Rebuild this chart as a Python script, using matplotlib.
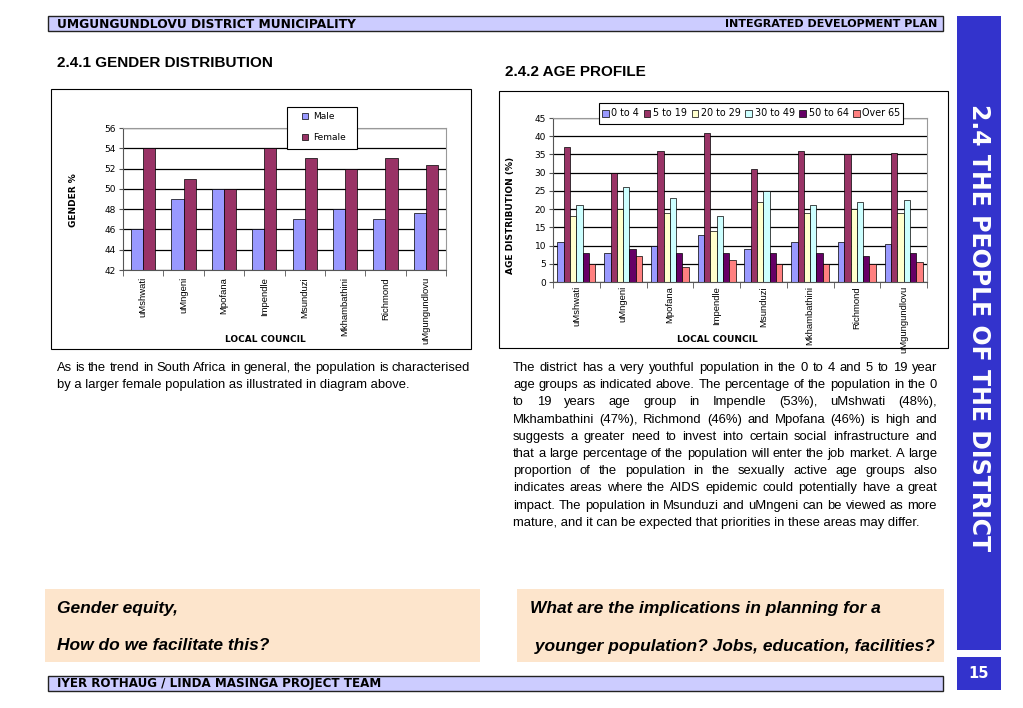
import matplotlib
matplotlib.use('Agg')
import matplotlib.pyplot as plt
import numpy as np
from matplotlib.patches import Rectangle

W, H = 1023, 708

# data
councils = ['uMshwati', 'uMngeni', 'Mpofana', 'Impendle', 'Msunduzi',
            'Mkhambathini', 'Richmond', 'uMgungundlovu']
male = [46, 49, 50, 46, 47, 48, 47, 47.6]
female = [54, 51, 50, 54, 53, 52, 53, 52.4]

age_groups = ['0 to 4', '5 to 19', '20 to 29', '30 to 49', '50 to 64', 'Over 65']
age_0_4 = [11, 8, 10, 13, 9, 11, 11, 10.4]
age_5_19 = [37, 30, 36, 41, 31, 36, 35, 35.4]
age_20_29 = [18, 20, 19, 14, 22, 19, 20, 18.9]
age_30_49 = [21, 26, 23, 18, 25, 21, 22, 22.5]
age_50_64 = [8, 9, 8, 8, 8, 8, 7, 8]
age_over_65 = [5, 7, 4, 6, 5, 5, 5, 5.4]

gender_colors = ['#9999FF', '#993366']
age_colors = ['#9999FF', '#993366', '#FFFFCC', '#CCFFFF', '#660066', '#FF8080']

left_para = [
    "As is the trend in South Africa in general, the population is characterised",
    "by a larger female population as illustrated in diagram above.",
]
right_para = [
    "The district has a very youthful population in the 0 to 4 and 5 to 19 year",
    "age groups as indicated above. The percentage of the population in the 0",
    "to 19 years age group in Impendle (53%), uMshwati (48%),",
    "Mkhambathini (47%), Richmond (46%) and Mpofana (46%) is high and",
    "suggests a greater need to invest into certain social infrastructure and",
    "that a large percentage of the population will enter the job market. A large",
    "proportion of the population in the sexually active age groups also",
    "indicates areas where the AIDS epidemic could potentially have a great",
    "impact. The population in Msunduzi and uMngeni can be viewed as more",
    "mature, and it can be expected that priorities in these areas may differ.",
]

ARIAL = ['Liberation Sans', 'DejaVu Sans']
CHART = ['DejaVu Sans']


def frac(x0, y0, x1, y1):
    return [x0 / W, 1 - y1 / H, (x1 - x0) / W, (y1 - y0) / H]


fig = plt.figure(figsize=(W / 100, H / 100), dpi=100)
fig.patch.set_facecolor('white')
bg = fig.add_axes([0, 0, 1, 1], zorder=0)
bg.set_xlim(0, W)
bg.set_ylim(H, 0)
bg.axis('off')


def box(x0, y0, x1, y1, fc, ec='none', lw=1.0):
    bg.add_patch(Rectangle((x0, y0), x1 - x0, y1 - y0, facecolor=fc,
                           edgecolor=ec, linewidth=lw))


# header / footer bars
box(48, 16, 943, 31, '#CCCCFF', '#222222', 1.0)
bg.text(57, 24, 'UMGUNGUNDLOVU DISTRICT MUNICIPALITY', fontsize=8.8,
        fontweight='bold', family=CHART, va='center', ha='left')
bg.text(937, 24, 'INTEGRATED DEVELOPMENT PLAN', fontsize=8.0,
        fontweight='bold', family=CHART, va='center', ha='right')
box(48, 676, 943, 691, '#CCCCFF', '#222222', 1.0)
bg.text(57, 684, 'IYER ROTHAUG / LINDA MASINGA PROJECT TEAM', fontsize=8.6,
        fontweight='bold', family=CHART, va='center', ha='left')

# side bar
box(957, 16, 1001, 650, '#3333CC')
bg.text(979, 328, '2.4 THE PEOPLE OF THE DISTRICT', rotation=-90, color='white',
        fontsize=17, fontweight='bold', family=CHART, ha='center', va='center')
box(957, 657, 1001, 690, '#3333CC')
bg.text(979, 674, '15', color='white', fontsize=10.5, fontweight='bold',
        family=CHART, ha='center', va='center')

# section titles
bg.text(57, 63, '2.4.1 GENDER DISTRIBUTION', fontsize=11, fontweight='bold',
        family=ARIAL, va='center')
bg.text(505, 72, '2.4.2 AGE PROFILE', fontsize=11, fontweight='bold',
        family=ARIAL, va='center')

# chart frames
box(51, 89, 471, 349, 'white', 'black', 0.8)
box(499, 91, 948, 348, 'white', 'black', 0.8)


def style_axis(ax, n, pad):
    ax.set_xlim(-0.5, n - 0.5)
    ax.set_xticks(np.arange(n))
    ax.set_xticklabels(councils, rotation=90, fontsize=6.8, family=ARIAL,
                       va='top')
    ax.set_xticks(np.arange(-0.5, n, 1), minor=True)
    ax.tick_params(axis='x', which='major', length=0, pad=pad)
    ax.tick_params(axis='x', which='minor', length=4, direction='out',
                   color='#555555')
    ax.tick_params(axis='y', length=3, direction='out', labelsize=6.5,
                   color='#555555', pad=2)
    for lab in ax.get_yticklabels():
        lab.set_family(CHART)
    ax.yaxis.grid(True, color='black', linewidth=0.9)
    ax.set_axisbelow(True)
    for s in ['left', 'bottom']:
        ax.spines[s].set_color('#555555')
    for s in ['top', 'right']:
        ax.spines[s].set_color('#999999')
    for s in ax.spines.values():
        s.set_linewidth(0.8)


def legend_frame(ax, x0, y0, x1, y1):
    ax.add_patch(Rectangle((x0 / W, 1 - y1 / H), (x1 - x0) / W, (y1 - y0) / H,
                           transform=fig.transFigure, facecolor='white',
                           edgecolor='black', linewidth=0.8, clip_on=False,
                           zorder=4))


# gender chart
ax1 = fig.add_axes(frac(123, 128, 446, 270), zorder=2)
x = np.arange(len(councils))
bw = 0.3
ax1.bar(x - bw / 2, male, bw, color=gender_colors[0], edgecolor='black',
        linewidth=0.5, label='Male')
ax1.bar(x + bw / 2, female, bw, color=gender_colors[1], edgecolor='black',
        linewidth=0.5, label='Female')
ax1.set_ylim(42, 56)
ax1.set_yticks(np.arange(42, 57, 2))
style_axis(ax1, len(councils), 5)
legend_frame(ax1, 287, 107, 357, 149)
leg1 = ax1.legend(loc='upper left', bbox_to_anchor=(302 / W, 1 - 112 / H),
                  bbox_transform=fig.transFigure, frameon=False,
                  fontsize=6.5, handlelength=0.7, handleheight=0.7,
                  labelspacing=1.35, borderpad=0, borderaxespad=0,
                  handletextpad=0.5)
leg1.set_zorder(5)
bg.text(73, 200, 'GENDER %', rotation=90, fontsize=6.5, fontweight='bold',
        family=CHART, ha='center', va='center')
bg.text(265, 340, 'LOCAL COUNCIL', fontsize=6.5, fontweight='bold',
        family=CHART, ha='center', va='center')

# age chart
ax2 = fig.add_axes(frac(553, 118, 927, 282), zorder=2)
series = [age_0_4, age_5_19, age_20_29, age_30_49, age_50_64, age_over_65]
aw = 0.135
for k, (vals, c, lab) in enumerate(zip(series, age_colors, age_groups)):
    ax2.bar(x + (k - 2.5) * aw, vals, aw, color=c, edgecolor='black',
            linewidth=0.5, label=lab)
ax2.set_ylim(0, 45)
ax2.set_yticks(np.arange(0, 46, 5))
style_axis(ax2, len(councils), 3)
legend_frame(ax2, 599, 103, 903, 124)
leg2 = ax2.legend(loc='center left', bbox_to_anchor=(602 / W, 1 - 113.5 / H),
                  bbox_transform=fig.transFigure, frameon=False, ncol=6,
                  fontsize=6.9, handlelength=0.7, handleheight=0.7,
                  columnspacing=0.5, borderpad=0, borderaxespad=0,
                  handletextpad=0.25)
leg2.set_zorder(5)
bg.text(510, 215, 'AGE DISTRIBUTION (%)', rotation=90, fontsize=6.5,
        fontweight='bold', family=CHART, ha='center', va='center')
bg.text(717, 340, 'LOCAL COUNCIL', fontsize=6.5, fontweight='bold',
        family=CHART, ha='center', va='center')


# justified paragraphs
renderer = fig.canvas.get_renderer()


def justified(lines, x0, x1, y0, dy, size):
    for i, line in enumerate(lines):
        y = y0 + i * dy
        if i == len(lines) - 1:
            bg.text(x0, y, line, fontsize=size, family=ARIAL, va='center')
            continue
        words = line.split()
        objs = [bg.text(0, y, w, fontsize=size, family=ARIAL, va='center')
                for w in words]
        widths = [o.get_window_extent(renderer).width for o in objs]
        gap = (x1 - x0 - sum(widths)) / (len(words) - 1)
        pos = x0
        for o, wd in zip(objs, widths):
            o.set_x(pos)
            pos += wd + gap


justified(left_para, 57, 470, 368, 17, 9.4)
justified(right_para, 513, 937, 368, 17.2, 9.4)

# question boxes
box(45, 589, 480, 662, '#FDE5CC')
box(517, 589, 944, 662, '#FDE5CC')
qstyle = dict(fontsize=12.5, fontweight='bold', fontstyle='italic',
              family=ARIAL, va='center')
bg.text(57, 608, 'Gender equity,', **qstyle)
bg.text(57, 646, 'How do we facilitate this?', **qstyle)
bg.text(530, 608, 'What are the implications in planning for a', **qstyle)
bg.text(530, 646, ' younger population? Jobs, education, facilities?', **qstyle)

fig.savefig('out.png', dpi=100)
